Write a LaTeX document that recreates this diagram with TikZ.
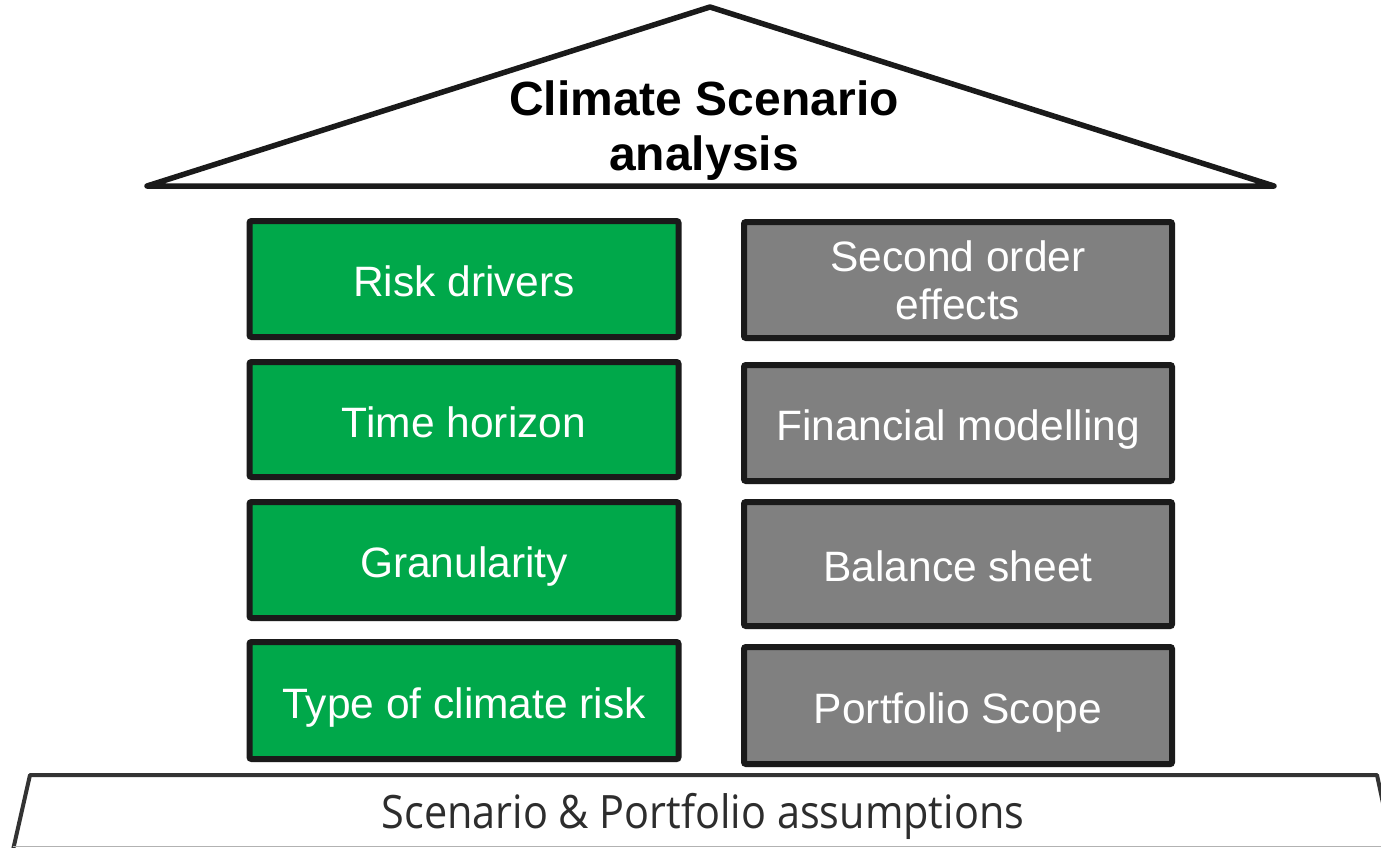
\documentclass[tikz,border=0pt]{standalone}
\usepackage{fontspec}
\setmainfont{Liberation Sans}
\newfontfamily\basefont{Open Sans}
\usetikzlibrary{shadows}
\definecolor{boxgreen}{RGB}{0,168,74}
\definecolor{boxgray}{RGB}{128,128,128}
\definecolor{edge}{RGB}{26,26,26}
\definecolor{basegray}{RGB}{51,51,51}
\definecolor{basetext}{RGB}{45,45,45}
\tikzset{
  pillar/.style={draw=edge, line width=6pt, rounded corners=2pt, text=white,
    align=center, inner sep=0pt, minimum width=429pt,
    font=\fontsize{42.5}{48}\selectfont,
    drop shadow={opacity=0.3, shadow xshift=2pt, shadow yshift=-3pt}},
  oneline/.style={text height=35pt, text depth=0pt},
  gpillar/.style={pillar, oneline, fill=boxgreen},
  ypillar/.style={pillar, fill=boxgray},
  rooftext/.style={font=\fontsize{48}{55}\selectfont\bfseries, align=center, text=black},
}
\begin{document}
\begin{tikzpicture}[x=1pt,y=-1pt]
\useasboundingbox (0,0) rectangle (1381,847);
% roof
\coordinate (apex) at (710,7);
\coordinate (rl) at (147,186);
\coordinate (rr) at (1274,186);
\draw[line width=5.5pt, line join=round, line cap=round, draw=edge, fill=white,
  drop shadow={opacity=0.25, shadow xshift=2pt, shadow yshift=-3pt}]
  (rl) -- (apex) -- (rr) -- cycle;
\node[rooftext] (title) at (704,131) {Climate Scenario\\analysis};
% green pillars
\node[gpillar, minimum height=116pt] (g1) at (464,279) {Risk drivers};
\node[gpillar, minimum height=115pt] (g2) at (464,419.5) {Time horizon};
\node[gpillar, minimum height=116pt] (g3) at (464,560) {Granularity};
\node[gpillar, minimum height=117pt] (g4) at (464,700.5) {Type of climate risk};
% gray pillars
\node[ypillar, minimum width=428pt, minimum height=116pt] (s1) at (958,280) {Second order\\effects};
\node[ypillar, oneline, minimum width=428pt, minimum height=116pt] (s2) at (958,423) {Financial modelling};
\node[ypillar, oneline, minimum width=428pt, minimum height=124pt] (s3) at (958,564) {Balance sheet};
\node[ypillar, oneline, minimum width=428pt, minimum height=117pt] (s4) at (958,705.5) {Portfolio Scope};
% base
\coordinate (bl) at (13,850);
\coordinate (tl) at (30,775);
\coordinate (tr) at (1377,775);
\coordinate (br) at (1384,808);
\draw[line width=4pt, draw=basegray, line join=round, fill=white] (bl) -- (tl) -- (tr) -- (br);
\draw[line width=1pt, draw=black!30] (13,846.5) -- (1381,846.5);
\node[text=basetext, inner sep=0pt, xscale=0.9] (base) at (703,816)
  {\basefont\fontsize{46}{52}\selectfont Scenario \& Portfolio assumptions};
\end{tikzpicture}
\end{document}
